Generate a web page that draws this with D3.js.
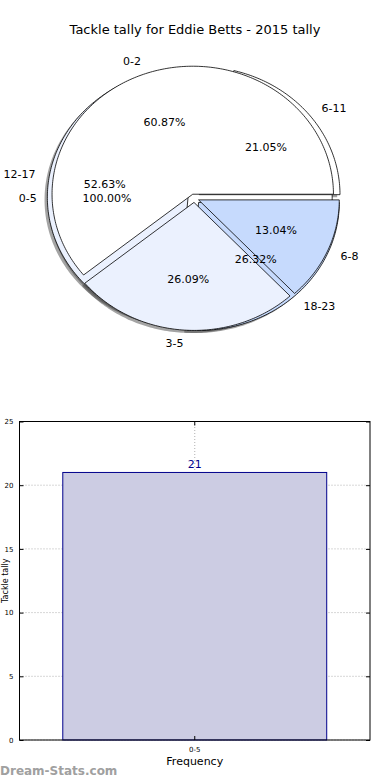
<!DOCTYPE html>
<html><head><meta charset="utf-8">
<script src="https://cdn.jsdelivr.net/npm/d3@7"></script>
<style>body{margin:0;background:#fff}svg{display:block}text{font-family:"DejaVu Sans",sans-serif}</style>
</head><body>
<script>
// ---- data ----
const title = "Tackle tally for Eddie Betts - 2015 tally";
const pieALabels = ["0-2", "3-5", "6-8"];
const pieAValues = [14, 6, 3];
const pieBLabels = ["6-11", "12-17", "18-23"];
const pieBValues = [4, 10, 5];
const pieCLabels = ["0-5"];
const pieCValues = [21];
const barCategories = ["0-5"];
const barValues = [21];
const yTicks = [0, 5, 10, 15, 20, 25];
const sliceColors = ["#ffffff", "#ebf1fe", "#c6dafd"];

const W = 390, H = 780;
const svg = d3.select("body").append("svg").attr("width", W).attr("height", H);

svg.append("text").attr("x", 195).attr("y", 34).attr("text-anchor", "middle")
  .attr("font-size", 13).attr("fill", "#000").text(title);

// ---- pie ----
const cx = 194.3, cy = 198.2, rx = 140.7, ry = 128;
const px = d3.scaleLinear().domain([-1, 1]).range([cx - rx, cx + rx]);
const py = d3.scaleLinear().domain([-1, 1]).range([cy + ry, cy - ry]);
const line = d3.line().x(d => px(d[0])).y(d => py(d[1])).curve(d3.curveLinearClosed);

const pies = [
  {labels: pieCLabels, values: pieCValues, explode: 0.02},
  {labels: pieBLabels, values: pieBValues, explode: 0.045},
  {labels: pieALabels, values: pieAValues, explode: 0.033}
];
const pieGen = d3.pie().sort(null).startAngle(0).endAngle(2 * Math.PI);

const wedges = [];
pies.forEach(p => {
  const total = d3.sum(p.values);
  pieGen(p.values).forEach((a, i) => {
    const mid = (a.startAngle + a.endAngle) / 2;
    const ox = p.explode * Math.cos(mid), oy = p.explode * Math.sin(mid);
    const full = (a.endAngle - a.startAngle) >= 2 * Math.PI - 1e-6;
    const pts = [];
    if (!full) pts.push([ox, oy]);
    const n = Math.max(2, Math.ceil((a.endAngle - a.startAngle) / (Math.PI / 180)));
    for (let k = 0; k <= n; k++) {
      const t = a.startAngle + (a.endAngle - a.startAngle) * k / n;
      pts.push([ox + Math.cos(t), oy + Math.sin(t)]);
    }
    wedges.push({pts, ox, oy, mid, color: sliceColors[i % sliceColors.length],
      label: p.labels[i], pct: (100 * p.values[i] / total).toFixed(2) + "%"});
  });
});

const gShadow = svg.append("g");
wedges.forEach(w => {
  gShadow.append("path").attr("d", line(w.pts.map(q => [q[0] - 0.02, q[1] - 0.02])))
    .attr("fill", "#4a4a4a").attr("fill-opacity", 0.5).attr("stroke", "none");
});
const gW = svg.append("g");
wedges.forEach(w => {
  gW.append("path").attr("d", line(w.pts)).attr("fill", w.color)
    .attr("stroke", "#000").attr("stroke-width", 0.8).attr("stroke-linejoin", "miter");
});
const gT = svg.append("g").attr("font-size", 11).attr("fill", "#000");
wedges.forEach(w => {
  const lx = w.ox + 1.1 * Math.cos(w.mid), ly = w.oy + 1.1 * Math.sin(w.mid);
  gT.append("text").attr("x", px(lx)).attr("y", py(ly)).attr("dy", "0.35em")
    .attr("text-anchor", lx > 0 ? "start" : "end").text(w.label);
  const tx = w.ox + 0.6 * Math.cos(w.mid), ty = w.oy + 0.6 * Math.sin(w.mid);
  gT.append("text").attr("x", px(tx)).attr("y", py(ty)).attr("dy", "0.35em")
    .attr("text-anchor", "middle").text(w.pct);
});

// ---- bar chart ----
const bx0 = 19.5, bx1 = 370, by0 = 740, by1 = 421.5;
const x = d3.scaleBand().domain(barCategories).range([bx0, bx1]).paddingInner(0).paddingOuter(0.164);
const y = d3.scaleLinear().domain([0, 25]).range([by0, by1]);
const gb = svg.append("g");
yTicks.forEach(t => {
  gb.append("line").attr("x1", bx0).attr("x2", bx1).attr("y1", y(t)).attr("y2", y(t))
    .attr("stroke", "#b0b0b0").attr("stroke-width", 1).attr("stroke-dasharray", "1,2");
});
barCategories.forEach(c => {
  const xc = x(c) + x.bandwidth() / 2;
  gb.append("line").attr("x1", xc).attr("x2", xc).attr("y1", by0).attr("y2", by1)
    .attr("stroke", "#b0b0b0").attr("stroke-width", 1).attr("stroke-dasharray", "1,2");
});
barCategories.forEach((c, i) => {
  gb.append("rect").attr("x", x(c)).attr("y", y(barValues[i])).attr("width", x.bandwidth())
    .attr("height", y(0) - y(barValues[i])).attr("fill", "#ccccE3").attr("stroke", "#00008b").attr("stroke-width", 1);
  gb.append("text").attr("x", x(c) + x.bandwidth() / 2).attr("y", y(barValues[i]) - 4)
    .attr("text-anchor", "middle").attr("font-size", 11).attr("fill", "#00008b").text(barValues[i]);
});
gb.append("rect").attr("x", bx0).attr("y", by1).attr("width", bx1 - bx0).attr("height", by0 - by1)
  .attr("fill", "none").attr("stroke", "#000").attr("stroke-width", 1);
const yAxL = d3.axisLeft(y).tickValues(yTicks).tickSizeInner(-4).tickSizeOuter(0).tickPadding(6);
const gyl = gb.append("g").attr("transform", `translate(${bx0},0)`).call(yAxL);
gyl.select(".domain").remove();
gyl.selectAll("text").attr("font-size", 7).attr("font-family", "DejaVu Sans, sans-serif").attr("fill", "#000");
const yAxR = d3.axisRight(y).tickValues(yTicks).tickSizeInner(-4).tickSizeOuter(0).tickFormat("");
const gyr = gb.append("g").attr("transform", `translate(${bx1},0)`).call(yAxR);
gyr.select(".domain").remove();
const xAx = d3.axisBottom(x).tickSizeInner(-4).tickSizeOuter(0).tickPadding(7);
const gx = gb.append("g").attr("transform", `translate(0,${by0})`).call(xAx);
gx.select(".domain").remove();
gx.selectAll("text").attr("font-size", 7).attr("font-family", "DejaVu Sans, sans-serif").attr("fill", "#000");
const xAxT = d3.axisTop(x).tickSizeInner(-4).tickSizeOuter(0).tickFormat("");
const gxt = gb.append("g").attr("transform", `translate(0,${by1})`).call(xAxT);
gxt.select(".domain").remove();

svg.append("text").attr("x", (bx0 + bx1) / 2).attr("y", 765).attr("text-anchor", "middle")
  .attr("font-size", 11).attr("fill", "#000").text("Frequency");
svg.append("text").attr("transform", `translate(8,${(by0 + by1) / 2}) rotate(-90)`)
  .attr("text-anchor", "middle").attr("font-size", 8).attr("fill", "#000").text("Tackle tally");
svg.append("text").attr("x", 0).attr("y", 775).attr("font-size", 12).attr("font-weight", "bold")
  .attr("fill", "#a0a0a0").text("Dream-Stats.com");
</script>
</body></html>
